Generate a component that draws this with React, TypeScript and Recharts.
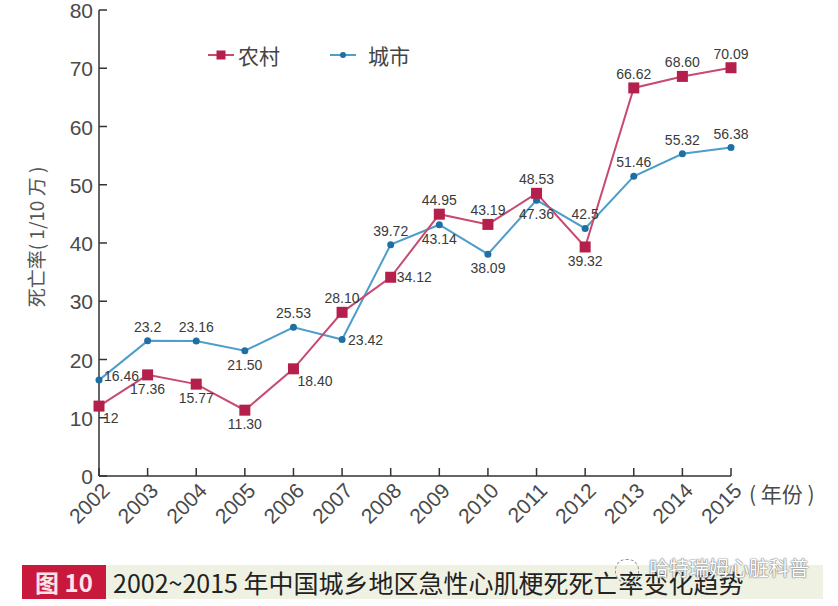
import React from 'react';
import {
  LineChart, Line, XAxis, YAxis, Legend, LabelList,
} from 'recharts';

const years = ['2002', '2003', '2004', '2005', '2006', '2007', '2008', '2009', '2010', '2011', '2012', '2013', '2014', '2015'];
const ruralRates = [12, 17.36, 15.77, 11.3, 18.4, 28.1, 34.12, 44.95, 43.19, 48.53, 39.32, 66.62, 68.6, 70.09];
const cityRates = [16.46, 23.2, 23.16, 21.5, 25.53, 23.42, 39.72, 43.14, 38.09, 47.36, 42.5, 51.46, 55.32, 56.38];
const ruralLabels = ['12', '17.36', '15.77', '11.30', '18.40', '28.10', '34.12', '44.95', '43.19', '48.53', '39.32', '66.62', '68.60', '70.09'];
const cityLabels = ['16.46', '23.2', '23.16', '21.50', '25.53', '23.42', '39.72', '43.14', '38.09', '47.36', '42.5', '51.46', '55.32', '56.38'];
const yTicks = [0, 10, 20, 30, 40, 50, 60, 70, 80];

// where each value label sits relative to its point
const ruralPlace = ['br', 'b', 'b', 'b', 'br', 't', 'r', 't', 't', 't', 'b', 't', 't', 't'];
const cityPlace = ['ru', 't', 't', 'b', 't', 'r', 't', 'b', 'b', 'b', 't', 't', 't', 't'];

const data = years.map((year, i) => ({ year, rural: ruralRates[i], city: cityRates[i] }));

const FONT = '"Liberation Sans", Arial, "Noto Sans CJK SC", sans-serif';
const CJK = '"Noto Sans CJK SC", "Liberation Sans", sans-serif';
const RURAL_LINE = '#c84a6e';
const RURAL_DOT = '#b41f4c';
const CITY_LINE = '#4f9dca';
const CITY_DOT = '#1d6fa4';

const makeLabel = (texts: string[], place: string[]) => (props: any) => {
  const { x, y, index } = props;
  const p = place[index];
  let tx = x, ty = y - 9, anchor = 'middle';
  if (p === 'b') ty = y + 19;
  if (p === 'r') { tx = x + 6; ty = y + 5; anchor = 'start'; }
  if (p === 'ru') { tx = x + 5; ty = y + 1; anchor = 'start'; }
  if (p === 'br') { tx = x + 4; ty = y + 17; anchor = 'start'; }
  return (
    <text x={tx} y={ty} textAnchor={anchor} fontSize={14} fill="#3a3a3a" fontFamily={FONT}>
      {texts[index]}
    </text>
  );
};

const YTick = (props: any) => {
  const { x, y, payload } = props;
  return (
    <g>
      <line x1={x} y1={y} x2={x + 8} y2={y} stroke="#333" strokeWidth={1.5} />
      <text x={x - 6} y={y + 8} textAnchor="end" fontSize={21} fill="#4a4a4a" fontFamily={FONT}>
        {payload.value}
      </text>
    </g>
  );
};

const XTick = (props: any) => {
  const { x, y, payload } = props;
  const ax = x + 12;
  const ay = y + 16;
  return (
    <g>
      <line x1={x} y1={y} x2={x} y2={y - 8} stroke="#333" strokeWidth={1.5} />
      <text x={ax} y={ay} textAnchor="end" fontSize={21} fill="#4a4a4a" fontFamily={FONT}
        transform={`rotate(-45 ${ax} ${ay})`}>
        {payload.value}
      </text>
    </g>
  );
};

const RuralDot = (props: any) => {
  const { cx, cy, index } = props;
  return <rect key={`r${index}`} x={cx - 5.5} y={cy - 5.5} width={11} height={11} fill={RURAL_DOT} />;
};

const CityDot = (props: any) => {
  const { cx, cy, index } = props;
  return <circle key={`c${index}`} cx={cx} cy={cy} r={3.5} fill={CITY_DOT} />;
};

const LegendContent = () => (
  <div style={{ display: 'flex', alignItems: 'center', fontFamily: CJK, fontSize: 21, color: '#444' }}>
    <svg width={30} height={20}>
      <line x1={2} y1={10} x2={28} y2={10} stroke={RURAL_LINE} strokeWidth={2} />
      <rect x={10.5} y={5.5} width={9} height={9} fill={RURAL_DOT} />
    </svg>
    <span style={{ marginLeft: 2 }}>农村</span>
    <svg width={30} height={20} style={{ marginLeft: 48 }}>
      <line x1={2} y1={10} x2={28} y2={10} stroke={CITY_LINE} strokeWidth={2} />
      <circle cx={15} cy={10} r={3} fill={CITY_DOT} />
    </svg>
    <span style={{ marginLeft: 10 }}>城市</span>
  </div>
);

export default function App() {
  return (
    <div style={{ position: 'absolute', left: 0, top: 0, width: 838, height: 606, background: '#fff', overflow: 'hidden' }}>
      <LineChart width={838} height={545} data={data} margin={{ top: 10, right: 107, bottom: 4, left: 0 }}>
        <XAxis
          dataKey="year"
          height={65}
          tick={<XTick />}
          tickLine={false}
          tickSize={0}
          tickMargin={0}
          interval={0}
          axisLine={{ stroke: '#333', strokeWidth: 1.5 }}
          label={(p: any) => {
            const vb = p.viewBox;
            return (
              <text x={vb.x + vb.width + 18} y={vb.y + 26} fontSize={21} fill="#4a4a4a" fontFamily={CJK}>
                ( 年份 )
              </text>
            );
          }}
        />
        <YAxis
          width={99}
          domain={[0, 80]}
          ticks={yTicks}
          tick={<YTick />}
          tickLine={false}
          tickSize={0}
          tickMargin={0}
          axisLine={{ stroke: '#333', strokeWidth: 1.5 }}
          label={() => (
            <text x={44} y={237} textAnchor="middle" fontSize={19} fill="#555" fontFamily={CJK}
              transform="rotate(-90 44 237)">
              死亡率( 1/10 万 )
            </text>
          )}
        />
        <Legend
          layout="horizontal"
          verticalAlign="middle"
          align="center"
          content={<LegendContent />}
          wrapperStyle={{ top: 40, left: 206, width: 'auto', height: 'auto' }}
        />
        <Line
          type="linear"
          dataKey="city"
          stroke={CITY_LINE}
          strokeWidth={2}
          dot={CityDot}
          activeDot={false}
          isAnimationActive={false}
        >
          <LabelList dataKey="city" content={makeLabel(cityLabels, cityPlace)} />
        </Line>
        <Line
          type="linear"
          dataKey="rural"
          stroke={RURAL_LINE}
          strokeWidth={2}
          dot={RuralDot}
          activeDot={false}
          isAnimationActive={false}
        >
          <LabelList dataKey="rural" content={makeLabel(ruralLabels, ruralPlace)} />
        </Line>
      </LineChart>
      <div style={{ position: 'absolute', left: 105, top: 565, width: 718, height: 34, background: '#eff1e2' }} />
      <div style={{
        position: 'absolute', left: 22, top: 565, width: 84, height: 34, background: '#c8193d',
        color: '#fbe3e8', fontFamily: CJK, fontSize: 24, fontWeight: 700, lineHeight: '34px', textAlign: 'center',
      }}>
        图 10
      </div>
      <div style={{
        position: 'absolute', left: 113, top: 565, height: 34, lineHeight: '34px',
        fontFamily: CJK, fontSize: 25, color: '#222', whiteSpace: 'nowrap',
      }}>
        2002~2015 年中国城乡地区急性心肌梗死死亡率变化趋势
      </div>
      <div style={{
        position: 'absolute', left: 615, top: 553, fontFamily: CJK, fontSize: 20, color: '#fff',
        whiteSpace: 'nowrap', textShadow: '0 0 1px #777, 0 0 1px #777, 0 0 2px #999',
      }}>
        <span style={{ display: 'inline-block', width: 22, height: 22, borderRadius: 11, border: '1px dashed #999', verticalAlign: 'middle', marginRight: 10 }} />
        哈特瑞姆心脏科普
      </div>
    </div>
  );
}
